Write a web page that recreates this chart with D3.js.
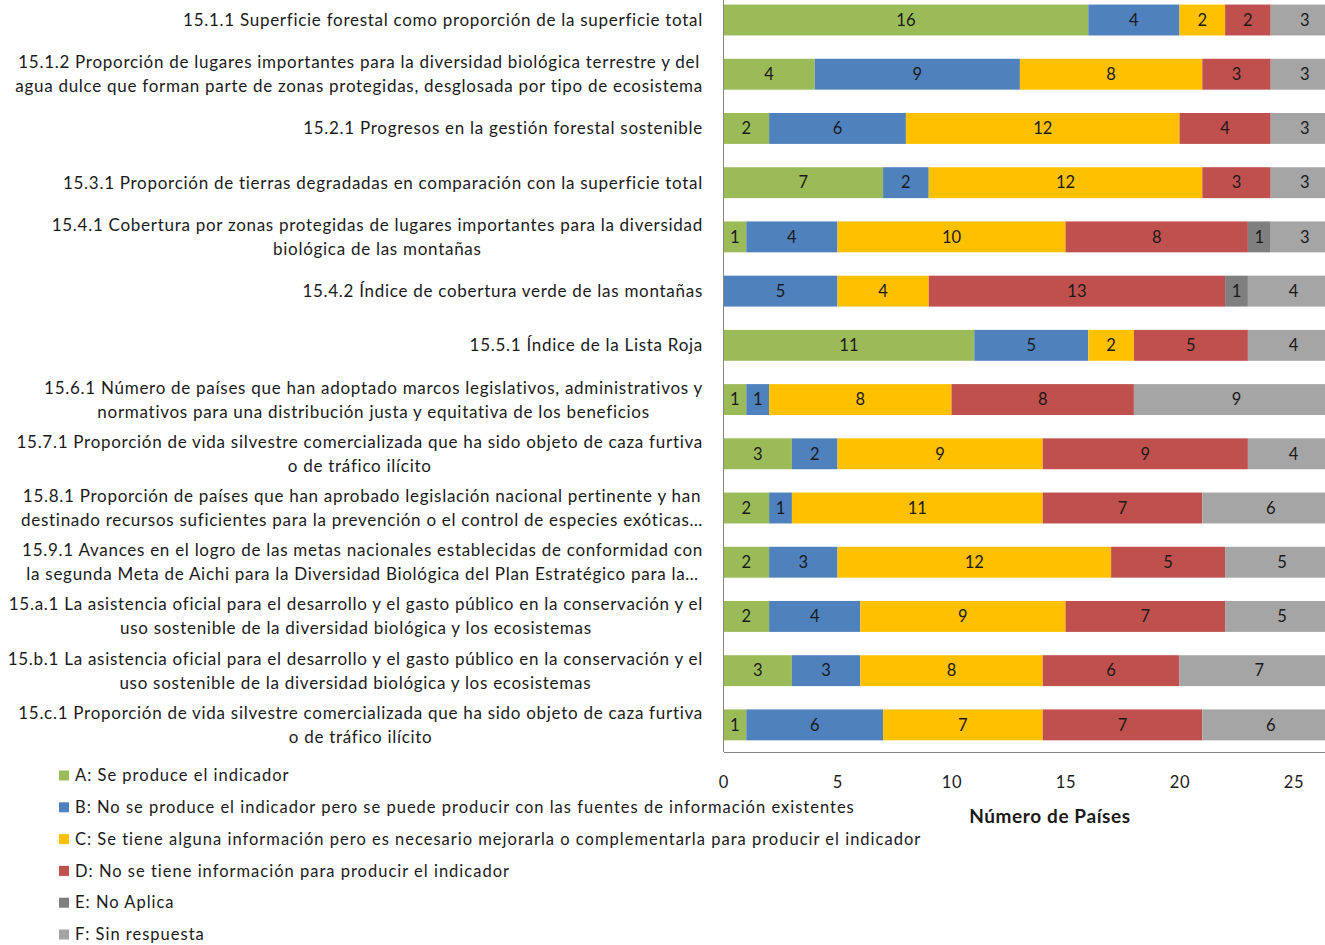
<!DOCTYPE html>
<html>
<head>
<meta charset="utf-8">
<script src="https://cdn.jsdelivr.net/npm/d3@7"></script>
<style>
  body { margin: 0; background: #fff; }
  svg { display: block; font-family: Lato, "Open Sans", sans-serif; }
</style>
</head>
<body>
<svg id="chart" width="1325" height="945"></svg>
<script>
// indicator labels, one array of lines each
const categories = [
  ["15.1.1 Superficie forestal como proporción de la superficie total"],
  ["15.1.2 Proporción de lugares importantes para la diversidad biológica terrestre y del",
   "agua dulce que forman parte de zonas protegidas, desglosada por tipo de ecosistema"],
  ["15.2.1 Progresos en la gestión forestal sostenible"],
  ["15.3.1 Proporción de tierras degradadas en comparación con la superficie total"],
  ["15.4.1 Cobertura por zonas protegidas de lugares importantes  para la diversidad",
   "biológica de las montañas"],
  ["15.4.2 Índice de cobertura verde de las montañas"],
  ["15.5.1 Índice de la Lista Roja"],
  ["15.6.1 Número de países que han adoptado marcos legislativos, administrativos  y",
   "normativos para una distribución justa y equitativa de los beneficios"],
  ["15.7.1 Proporción de vida silvestre comercializada que ha sido objeto de caza furtiva",
   "o de tráfico ilícito"],
  ["15.8.1 Proporción de países que han aprobado legislación nacional pertinente y han",
   "destinado recursos suficientes para la prevención o el control de especies exóticas…"],
  ["15.9.1 Avances en el logro de las metas nacionales establecidas de conformidad con",
   "la segunda Meta de Aichi para la Diversidad Biológica del Plan Estratégico para la…"],
  ["15.a.1 La asistencia oficial para el desarrollo y el gasto público en la conservación y el",
   "uso sostenible de la diversidad biológica y los ecosistemas"],
  ["15.b.1 La asistencia oficial para el desarrollo y el gasto público en la conservación y el",
   "uso sostenible de la diversidad biológica y los ecosistemas"],
  ["15.c.1 Proporción de vida silvestre comercializada que ha sido objeto de caza furtiva",
   "o de tráfico ilícito"]
]

const seriesNames = [
  "A: Se produce el indicador",
  "B: No se produce el indicador pero se puede producir con las fuentes de información existentes",
  "C: Se tiene alguna información pero es necesario mejorarla o complementarla para producir el indicador",
  "D: No se tiene información para producir el indicador",
  "E: No Aplica",
  "F: Sin respuesta"
]
const seriesColors = ["#9bbb59", "#4f81bd", "#ffc000", "#c0504d", "#7f7f7f", "#a5a5a5"]

const serA = [16, 4, 2, 7, 1, 0, 11, 1, 3, 2, 2, 2, 3, 1]
const serB = [4, 9, 6, 2, 4, 5, 5, 1, 2, 1, 3, 4, 3, 6]
const serC = [2, 8, 12, 12, 10, 4, 2, 8, 9, 11, 12, 9, 8, 7]
const serD = [2, 3, 4, 3, 8, 13, 5, 8, 9, 7, 5, 7, 6, 7]
const serE = [0, 0, 0, 0, 1, 1, 0, 0, 0, 0, 0, 0, 0, 0]
const serF = [3, 3, 3, 3, 3, 4, 4, 9, 4, 6, 5, 5, 7, 6]

const xTicks = [0, 5, 10, 15, 20, 25]
const axisTitle = "Número de Países"

const keys = ["A", "B", "C", "D", "E", "F"]
const table = categories.map((c, i) => ({
  idx: i, A: serA[i], B: serB[i], C: serC[i], D: serD[i], E: serE[i], F: serF[i]
}))

const svg = d3.select('#chart')
const x0 = 723.5, unit = 22.8
const x = d3.scaleLinear().domain([0, 28]).range([x0, x0 + 28 * unit])
const y = d3.scaleBand().domain(table.map(d => d.idx)).range([-7.1, 752])
  .paddingInner(0.43).paddingOuter(0.215)

const stack = d3.stack().keys(keys)(table)
const color = d3.scaleOrdinal().domain(keys).range(seriesColors)

const barg = svg.append('g')
stack.forEach(layer => {
  const g = barg.append('g')
  g.selectAll('rect').data(layer.filter(d => d[1] > d[0])).enter().append('rect')
    .attr('x', d => x(d[0]))
    .attr('y', d => y(d.data.idx))
    .attr('width', d => x(d[1]) - x(d[0]))
    .attr('height', y.bandwidth())
    .attr('fill', color(layer.key))
  g.selectAll('text').data(layer.filter(d => d[1] > d[0])).enter().append('text')
    .attr('x', d => (x(d[0]) + x(d[1])) / 2)
    .attr('y', d => y(d.data.idx) + y.bandwidth() / 2)
    .attr('dy', '0.35em')
    .attr('text-anchor', 'middle')
    .style('font-size', '16.5px')
    .style('fill', '#1a1a1a')
    .text(d => d[1] - d[0])
})

// axes
const xAxis = svg.append('g').attr('transform', 'translate(0,752)')
  .call(d3.axisBottom(x).tickValues(xTicks).tickSize(0).tickPadding(24))
xAxis.select('.domain').attr('stroke', '#868686')
xAxis.selectAll('text').style('font-size', '16.5px').style('fill', '#1a1a1a')
  .style('font-family', 'Lato, sans-serif').style('letter-spacing', '0.8px')

const yAxis = svg.append('g').attr('transform', `translate(${x0},0)`)
  .call(d3.axisLeft(y).tickSize(0).tickFormat(''))
yAxis.select('.domain').attr('stroke', '#868686').attr('d', 'M0,-10V752')

svg.append('text')
  .attr('x', 1050).attr('y', 816).attr('dy', '0.35em')
  .attr('text-anchor', 'middle')
  .style('font-size', '19px').style('font-weight', 'bold').style('fill', '#1a1a1a')
  .style('letter-spacing', '0.6px')
  .text(axisTitle)

// category labels: lines centred within block, block right aligned
const labelRight = 703
const labg = svg.append('g')
categories.forEach((lines, i) => {
  const cy = y(i) + y.bandwidth() / 2
  const t = labg.append('text')
    .style('font-size', '17px').style('fill', '#1a1a1a')
    .style('letter-spacing', '0.72px')
    .attr('text-anchor', 'middle')
  const spans = lines.map((ln, k) => t.append('tspan')
    .attr('y', cy + (k - (lines.length - 1) / 2) * 24)
    .attr('dy', '0.35em')
    .text(ln))
  const w = d3.max(spans, s => s.node().getComputedTextLength())
  spans.forEach(s => s.attr('x', labelRight - w / 2))
})

// legend
const leg = svg.append('g')
seriesNames.forEach((name, i) => {
  const ly = 775.5 + i * 31.8
  leg.append('rect').attr('x', 59).attr('y', ly - 5).attr('width', 10).attr('height', 10)
    .attr('fill', seriesColors[i])
  leg.append('text').attr('x', 75).attr('y', ly).attr('dy', '0.35em')
    .style('font-size', '16.5px').style('fill', '#1a1a1a')
    .style('letter-spacing', '1px')
    .text(name)
})
</script>
</body>
</html>
